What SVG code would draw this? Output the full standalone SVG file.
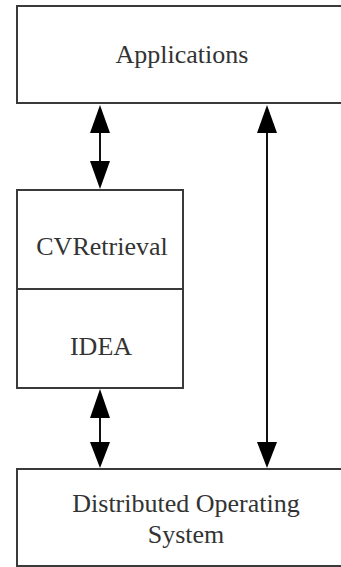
<svg xmlns="http://www.w3.org/2000/svg" width="341" height="567" viewBox="0 0 341 567">
<style>
.box{fill:#fff;stroke:#3a3a3a;stroke-width:2}
.conn{stroke:#111;stroke-width:2;fill:none}
.head{fill:#000}
</style>
<rect width="341" height="567" fill="#fff"/>
<g id="applications">
<rect class="box" x="17" y="6" width="340" height="97"/>
<text x="182" y="63" font-family="Liberation Serif" font-size="26" fill="#333" text-anchor="middle">Applications</text>
</g>
<g id="cvretrieval-idea">
<rect class="box" x="17" y="190" width="166" height="198"/>
<line class="box" x1="17" y1="289" x2="183" y2="289"/>
<text x="102" y="255" font-family="Liberation Serif" font-size="26" fill="#333" text-anchor="middle">CVRetrieval</text>
<text x="101" y="355" font-family="Liberation Serif" font-size="26" fill="#333" text-anchor="middle">IDEA</text>
</g>
<g id="dos">
<rect class="box" x="17" y="469" width="340" height="97"/>
<text x="186" y="512" font-family="Liberation Serif" font-size="26" fill="#333" text-anchor="middle">Distributed Operating</text>
<text x="186" y="543" font-family="Liberation Serif" font-size="26" fill="#333" text-anchor="middle">System</text>
</g>
<g id="connectors">
<line class="conn" x1="100" y1="130" x2="100" y2="165"/>
<polygon class="head" points="100,105 90,133 110,133"/>
<polygon class="head" points="100,189 90,161 110,161"/>
<line class="conn" x1="100" y1="415" x2="100" y2="445"/>
<polygon class="head" points="100,389 90,418 110,418"/>
<polygon class="head" points="100,468 90,442 110,442"/>
<line class="conn" x1="267" y1="130" x2="267" y2="445"/>
<polygon class="head" points="267,105 257,133 277,133"/>
<polygon class="head" points="267,468 257,442 277,442"/>
</g>
</svg>
